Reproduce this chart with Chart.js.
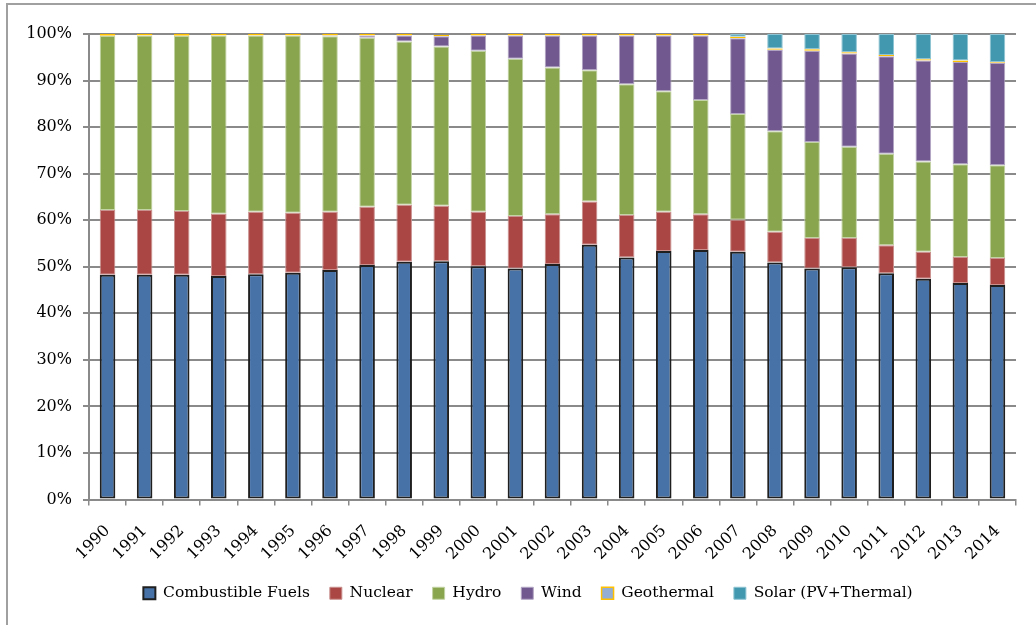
<!DOCTYPE html>
<html>
<head>
<meta charset="utf-8">
<script src="https://cdn.jsdelivr.net/npm/chart.js@4.4.0/dist/chart.umd.min.js"></script>
<style>
    body { margin: 0; background: #fff; }
    #wrap { position: relative; width: 1036px; height: 625px; overflow: hidden; }
    #frame { position: absolute; left: 6px; top: 3px; width: 1100px; height: 700px; border: 2px solid #a0a0a0; }
    #energyChart { position: absolute; left: 0; top: 0; }
</style>
</head>
<body>
<div id="wrap">
    <div id="frame"></div>
    <canvas id="energyChart" width="1036" height="625"></canvas>
</div>
<script>
// Years on the x axis
const years = ['1990', '1991', '1992', '1993', '1994', '1995', '1996', '1997', '1998', '1999',
    '2000', '2001', '2002', '2003', '2004', '2005', '2006', '2007', '2008', '2009',
    '2010', '2011', '2012', '2013', '2014'];

// Share of generation (%) per source
const combustible = [48.3, 48.3, 48.3, 48.0, 48.4, 48.7, 49.3, 50.4, 51.1, 51.2,
    50.1, 49.6, 50.6, 54.7, 52.0, 53.4, 53.6, 53.2, 50.9, 49.6,
    49.9, 48.6, 47.4, 46.5, 46.1];
const nuclear = [13.9, 13.9, 13.7, 13.4, 13.4, 12.9, 12.5, 12.5, 12.2, 11.9,
    11.7, 11.3, 10.7, 9.3, 9.1, 8.4, 7.7, 6.9, 6.6, 6.6,
    6.3, 6.0, 5.8, 5.6, 5.8];
const hydro = [37.4, 37.5, 37.6, 38.3, 37.9, 38.1, 37.7, 36.3, 35.1, 34.2,
    34.6, 33.8, 31.5, 28.2, 28.1, 25.9, 24.5, 22.7, 21.6, 20.6,
    19.6, 19.7, 19.4, 19.9, 19.9];
const wind = [0, 0, 0, 0, 0, 0, 0.2, 0.5, 1.3, 2.2,
    3.3, 5.0, 6.9, 7.5, 10.5, 12.0, 13.9, 16.3, 17.5, 19.6,
    20.0, 20.9, 21.7, 22.0, 22.0];
const geothermal = [0.4, 0.3, 0.4, 0.3, 0.3, 0.3, 0.3, 0.3, 0.3, 0.3,
    0.3, 0.3, 0.3, 0.3, 0.3, 0.3, 0.3, 0.3, 0.3, 0.3,
    0.3, 0.3, 0.3, 0.3, 0.2];
const solar = [0, 0, 0, 0, 0, 0, 0, 0, 0, 0,
    0, 0, 0, 0, 0, 0, 0, 0.6, 3.1, 3.3,
    3.9, 4.5, 5.4, 5.7, 6.0];

const yTicks = [0, 10, 20, 30, 40, 50, 60, 70, 80, 90, 100];

const fontFamily = '"DejaVu Serif", serif';

function series(label, data, fill, border, width) {
    return {
        label: label,
        data: data,
        backgroundColor: fill,
        borderColor: border,
        borderWidth: width,
        borderSkipped: false,
        categoryPercentage: 1,
        barPercentage: 0.42
    };
}

// nudge the legend a bit to the right, like the original
const legendShift = {
    id: 'legendShift',
    afterLayout(chart) {
        chart.legend.left += 7;
        chart.legend.right += 7;
    }
};

const ctx = document.getElementById('energyChart').getContext('2d');

new Chart(ctx, {
    type: 'bar',
    data: {
        labels: years,
        datasets: [
            series('Combustible Fuels', combustible, '#4672a8', '#1f1f1f', 2),
            series('Nuclear', nuclear, '#aa4744', '#c9908e', 1),
            series('Hydro', hydro, '#89a54e', '#c2d3a4', 1),
            series('Wind', wind, '#71588f', '#b3a6c4', 1),
            series('Geothermal', geothermal, '#93aed2', '#ffc000', 1.5),
            series('Solar (PV+Thermal)', solar, '#4198af', '#8ec4d3', 1)
        ]
    },
    plugins: [legendShift],
    options: {
        responsive: false,
        animation: false,
        layout: {
            padding: { left: 26, right: 20, top: 34, bottom: 14 }
        },
        plugins: {
            tooltip: { enabled: false },
            legend: {
                display: true,
                position: 'bottom',
                labels: {
                    boxWidth: 12,
                    boxHeight: 12,
                    padding: 20,
                    color: '#000',
                    font: { family: fontFamily, size: 15.5 }
                }
            }
        },
        scales: {
            x: {
                stacked: true,
                afterFit: function (scale) { scale.height = 66; },
                border: { display: true, color: '#8a8a8a', width: 2 },
                grid: {
                    display: true,
                    offset: true,
                    drawOnChartArea: false,
                    drawTicks: true,
                    tickLength: 6,
                    color: '#8a8a8a',
                    lineWidth: 1.5
                },
                ticks: {
                    autoSkip: false,
                    minRotation: 45,
                    maxRotation: 45,
                    padding: 16,
                    color: '#000',
                    font: { family: fontFamily, size: 16 }
                }
            },
            y: {
                stacked: true,
                min: 0,
                max: 100,
                afterFit: function (scale) { scale.width = 63; },
                afterBuildTicks: function (scale) {
                    scale.ticks = yTicks.map(v => ({ value: v }));
                },
                border: { display: true, color: '#8a8a8a', width: 2 },
                grid: {
                    color: '#8a8a8a',
                    lineWidth: 2,
                    drawTicks: true,
                    tickLength: 6
                },
                ticks: {
                    padding: 11,
                    color: '#000',
                    font: { family: fontFamily, size: 16 },
                    callback: function (v) { return v + '%'; }
                }
            }
        }
    }
});
</script>
</body>
</html>
